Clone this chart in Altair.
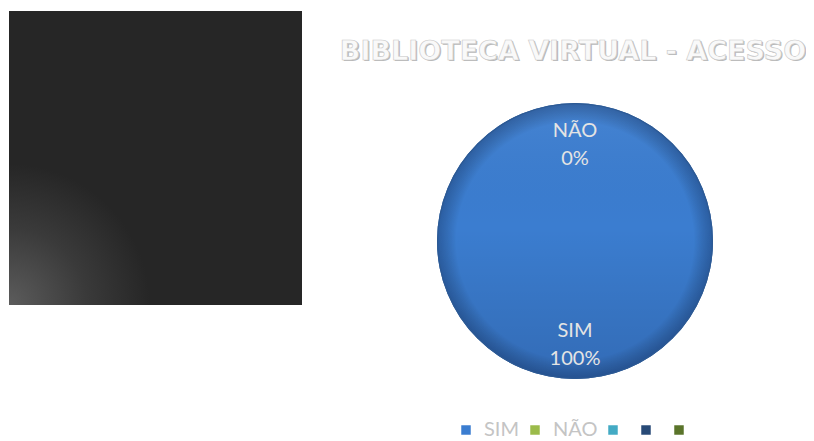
import altair as alt
import pandas as pd

# ---- data ----
titulo = "BIBLIOTECA VIRTUAL - ACESSO"
categorias = ["SIM", "NÃO", " ", "  ", "   "]
valores = [100, 0, 0, 0, 0]
cores = ["#3b7dd0", "#9bbb4a", "#43aac4", "#284a77", "#5a742a"]

total = sum(valores)
df = pd.DataFrame({
    "categoria": categorias,
    "valor": valores,
    "ordem": list(range(len(categorias))),
})
df["rotulo"] = [f"{c}\n{v / total * 100:.0f}%" for c, v in zip(categorias, valores)]

one = pd.DataFrame({"t": [titulo]})

CX, CY, R = 567, 233, 138

# dark picture panel on the left
painel = alt.Chart(one).mark_rect(
    color=alt.Gradient(
        gradient="radial",
        stops=[alt.GradientStop(color="#5c5c5c", offset=0),
               alt.GradientStop(color="#3a3a3a", offset=0.55),
               alt.GradientStop(color="#262626", offset=1)],
        x1=0, y1=1, r1=0, x2=0, y2=1, r2=0.48,
    )
).encode(x=alt.value(1), x2=alt.value(294), y=alt.value(3), y2=alt.value(297))

# title (shadow + outlined white text)
tit_sombra = alt.Chart(one).mark_text(
    font="DejaVu Sans", fontWeight="bold", fontSize=27, fill="#b8b8b8",
    align="center", baseline="middle", dx=1.3, dy=1.3
).encode(x=alt.value(565), y=alt.value(44), text="t:N")
tit = alt.Chart(one).mark_text(
    font="DejaVu Sans", fontWeight="bold", fontSize=27, fill="#f9f9f9",
    stroke="#c8c8c8", strokeWidth=0.6, align="center", baseline="middle"
).encode(x=alt.value(565), y=alt.value(44), text="t:N")

theta = alt.Theta("valor:Q", stack=True, scale=alt.Scale(domain=[0, total]))
order = alt.Order("ordem:Q")

base = alt.Chart(df).encode(theta=theta, order=order, x=alt.value(CX), y=alt.value(CY))

pizza = base.mark_arc(outerRadius=R).encode(
    color=alt.Color(
        "categoria:N",
        scale=alt.Scale(domain=categorias, range=cores),
        sort=categorias,
        legend=alt.Legend(
            title=None, orient="none", legendX=448, legendY=412,
            direction="horizontal", symbolType="square", symbolSize=90,
            symbolStrokeWidth=0, labelFont="Lato", labelFontSize=20,
            labelColor="#c4c4c4", labelOffset=8, columnPadding=5,
            padding=0, labelExpr="trim(datum.label)",
        ),
    )
)

sombra_lin = base.mark_arc(
    outerRadius=R,
    color=alt.Gradient(
        gradient="linear",
        stops=[alt.GradientStop(color="rgba(255,255,255,0.06)", offset=0),
               alt.GradientStop(color="rgba(0,0,0,0.0)", offset=0.45),
               alt.GradientStop(color="rgba(0,0,30,0.14)", offset=1)],
        x1=0, x2=0, y1=0, y2=1,
    ),
)
sombra_rad = base.mark_arc(
    outerRadius=R,
    color=alt.Gradient(
        gradient="radial",
        stops=[alt.GradientStop(color="rgba(0,0,0,0)", offset=0),
               alt.GradientStop(color="rgba(0,0,0,0)", offset=0.86),
               alt.GradientStop(color="rgba(0,10,40,0.28)", offset=1)],
        x1=0.5, y1=0.5, r1=0, x2=0.5, y2=0.5, r2=0.5,
    ),
)
borda = base.mark_arc(innerRadius=R - 1.2, outerRadius=R, color="#2d5a94")

rotulos = base.transform_filter(
    alt.FieldOneOfPredicate(field="categoria", oneOf=categorias[:2])
).mark_text(
    radius=100, dy=-10, font="Lato", fontSize=20, color="#e4e4e4",
    lineBreak="\n", lineHeight=28, align="center", baseline="middle"
).encode(text="rotulo:N")

chart = alt.layer(painel, tit_sombra, tit, pizza, sombra_lin, sombra_rad, borda, rotulos).properties(
    width=798, height=433,
    autosize=alt.AutoSizeParams(type="none"),
    padding=0,
    background="white",
).configure_view(stroke=None)

chart.save("out.html", embed_options={"renderer": "svg", "actions": False})
